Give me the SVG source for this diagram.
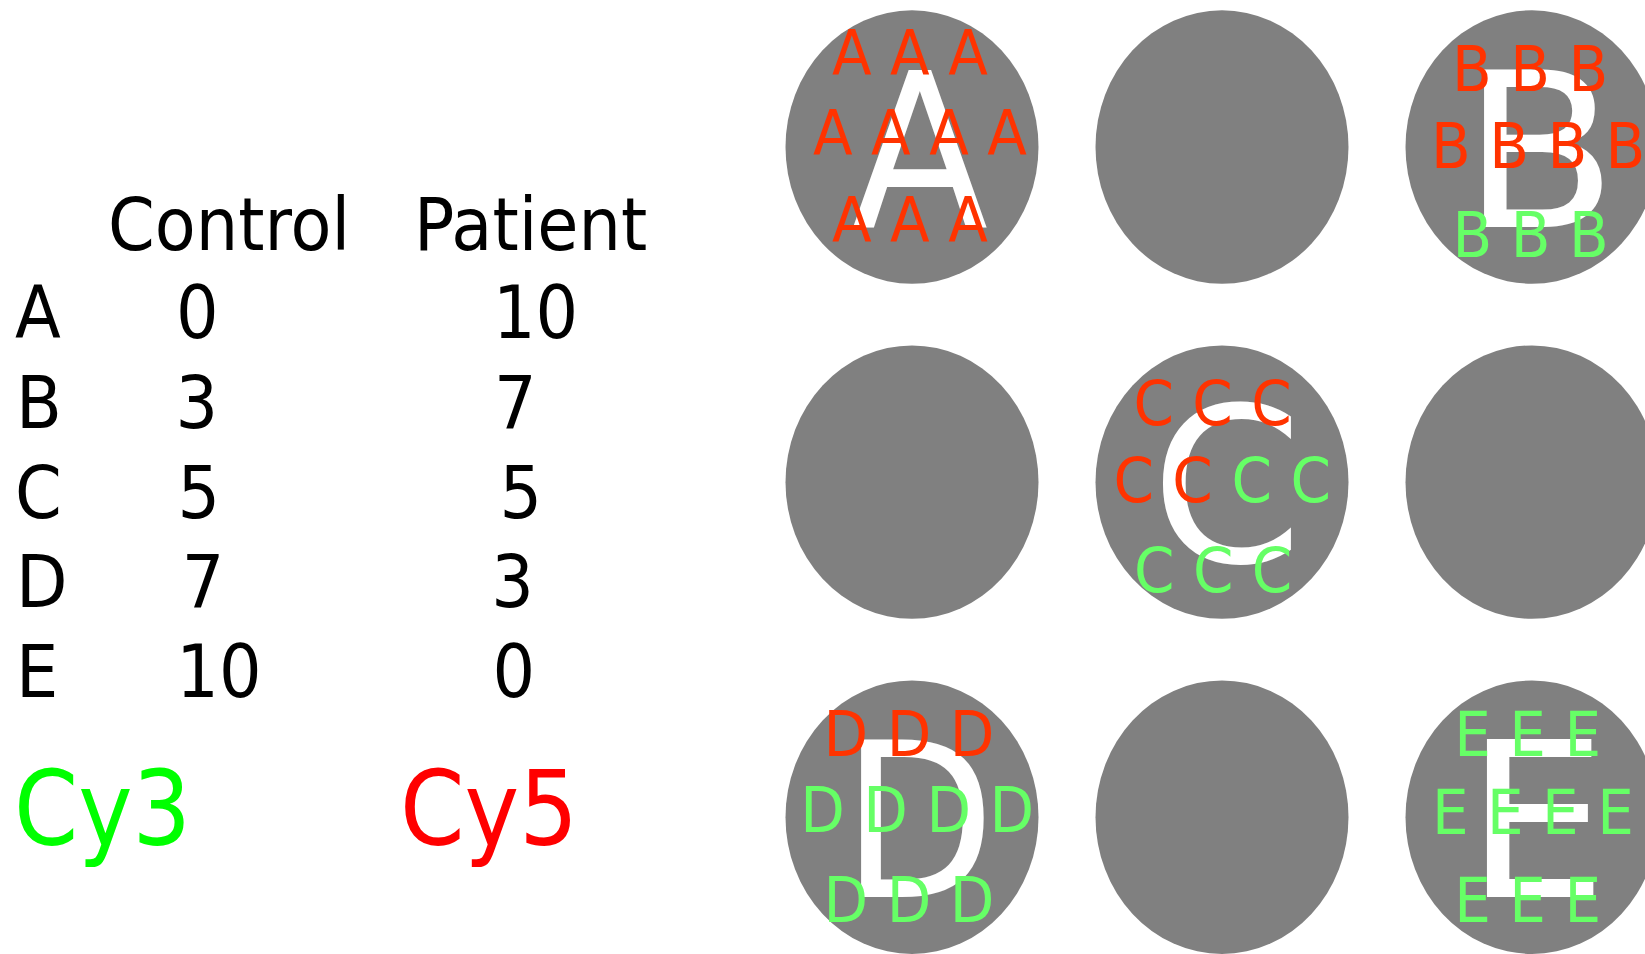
<svg xmlns="http://www.w3.org/2000/svg" width="1645" height="954" viewBox="0 0 1645 954">
<style>
text{font-family:"DejaVu Sans","Verdana",sans-serif;}
.lbl{font-size:67px;fill:#000;}
.cy{font-size:95px;}
.well{fill:#808080;}
.big{font-size:200px;fill:#fff;}
.sm{font-size:58px;}
.r{fill:#ff3300;}
.g{fill:#66ff66;}
</style>
<rect width="1645" height="954" fill="#fff"/>
<g transform="scale(1,1.081)">
<g id="table">
<text class="lbl" x="108" y="231.3">Control</text>
<text class="lbl" x="414" y="231.3">Patient</text>
<text class="lbl" x="15" y="312.7">A</text>
<text class="lbl" x="16" y="395.9">B</text>
<text class="lbl" x="15" y="478.8">C</text>
<text class="lbl" x="16" y="561.5">D</text>
<text class="lbl" x="16" y="644.8">E</text>
<text class="lbl" x="176" y="312.7">0</text>
<text class="lbl" x="175.5" y="395.9">3</text>
<text class="lbl" x="177.5" y="478.8">5</text>
<text class="lbl" x="181.8" y="561.5">7</text>
<text class="lbl" x="176.3" y="644.8">10</text>
<text class="lbl" x="493" y="312.7">10</text>
<text class="lbl" x="494" y="395.9">7</text>
<text class="lbl" x="499.5" y="478.8">5</text>
<text class="lbl" x="491.2" y="561.5">3</text>
<text class="lbl" x="492.6" y="644.8">0</text>
</g>
<g id="legend">
<text class="cy" x="14" y="782" fill="#00ff00" textLength="177" lengthAdjust="spacingAndGlyphs">Cy3</text>
<text class="cy" x="400" y="782" fill="#ff0000" textLength="178" lengthAdjust="spacingAndGlyphs">Cy5</text>
</g>
<g id="connectors"></g>
<g id="well-A">
<circle class="well" cx="912" cy="136" r="126.5"/>
<text class="big" x="851.4" y="210">A</text>
<text class="sm r" x="832" y="69.4">A A A</text>
<text class="sm r" x="813" y="143.4">A A A A</text>
<text class="sm r" x="832" y="224.1">A A A</text>
</g>
<g id="well-1"><circle class="well" cx="1222" cy="136" r="126.5"/></g>
<g id="well-B">
<circle class="well" cx="1532" cy="136" r="126.5"/>
<text class="big" x="1461.7" y="210" textLength="156" lengthAdjust="spacingAndGlyphs">B</text>
<text class="sm r" x="1452" y="83.9">B B B</text>
<text class="sm r" x="1431" y="155.7">B B B B</text>
<text class="sm g" x="1452.6" y="238">B B B</text>
</g>
<g id="well-2"><circle class="well" cx="912" cy="446" r="126.5"/></g>
<g id="well-C">
<circle class="well" cx="1222" cy="446" r="126.5"/>
<text class="big" x="1150.8" y="520" textLength="152" lengthAdjust="spacingAndGlyphs">C</text>
<text class="sm r" x="1133.4" y="392.7">C C C</text>
<text class="sm r" x="1113.4" y="464.8">C C</text>
<text class="sm g" x="1231.5" y="464.8">C C</text>
<text class="sm g" x="1134" y="547.2">C C C</text>
</g>
<g id="well-3"><circle class="well" cx="1532" cy="446" r="126.5"/></g>
<g id="well-D">
<circle class="well" cx="912" cy="756" r="126.5"/>
<text class="big" x="841.4" y="830">D</text>
<text class="sm r" x="823.6" y="699.3">D D D</text>
<text class="sm g" x="800.3" y="770">D D D D</text>
<text class="sm g" x="823.6" y="852.6">D D D</text>
</g>
<g id="well-4"><circle class="well" cx="1222" cy="756" r="126.5"/></g>
<g id="well-E">
<circle class="well" cx="1532" cy="756" r="126.5"/>
<text class="big" x="1464.8" y="830" textLength="143" lengthAdjust="spacingAndGlyphs">E</text>
<text class="sm g" x="1454.3" y="699.3">E E E</text>
<text class="sm g" x="1432" y="771.8">E E E E</text>
<text class="sm g" x="1454.3" y="852.6">E E E</text>
</g>
</g>
</svg>
